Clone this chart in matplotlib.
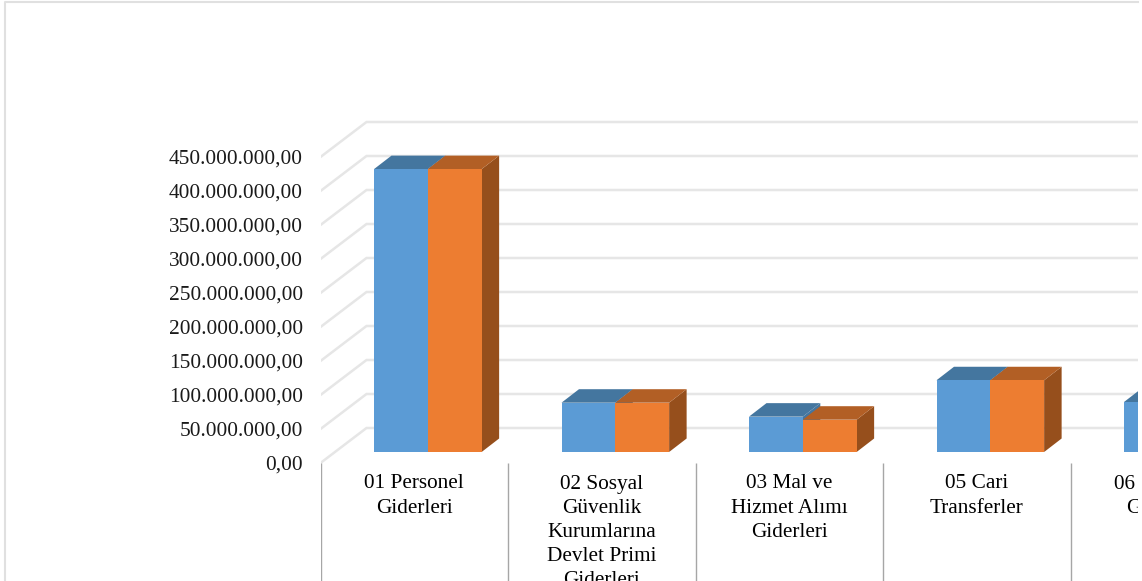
import matplotlib
matplotlib.use('Agg')
import matplotlib.pyplot as plt
from matplotlib.lines import Line2D

plt.rcParams['font.family'] = ['Liberation Serif', 'DejaVu Serif']

# Kategoriler ve degerler
kategoriler = [
    '01 Personel\nGiderleri',
    '02 Sosyal\nGüvenlik\nKurumlarına\nDevlet Primi\nGiderleri',
    '03 Mal ve\nHizmet Alımı\nGiderleri',
    '05 Cari\nTransferler',
    '06 Sermaye\nGiderleri',
]
seri_mavi = [416000000, 72500000, 52000000, 105500000, 73500000]
seri_turuncu = [416000000, 72500000, 47500000, 105500000, 73500000]
y_ticks = list(range(0, 450000001, 50000000))
y_etiketler = ['0,00', '50.000.000,00', '100.000.000,00', '150.000.000,00',
               '200.000.000,00', '250.000.000,00', '300.000.000,00',
               '350.000.000,00', '400.000.000,00', '450.000.000,00']

W, H = 1142, 581
sol, sag = 320.5, 1138
taban = 463            # sifir cizgisinin piksel yuksekligi
kat_px = 187.5         # bir kategorinin genisligi
deger_px = 50000000 / 34  # bir pikselin deger karsiligi

fig = plt.figure(figsize=(W / 100, H / 100), dpi=100)
ax = fig.add_axes([sol / W, 0, (sag - sol) / W, 1])
ax.set_xlim(0, (sag - sol) / kat_px)
ax.set_ylim((taban - H) * deger_px, taban * deger_px)
for s in ax.spines.values():
    s.set_visible(False)


def derinlik(piksel_x, piksel_y):
    return piksel_x / kat_px, piksel_y * deger_px


# izgara
gx, gy = derinlik(46, 35)
xmax = ax.get_xlim()[1]
for t in y_ticks:
    ax.plot([0, gx, xmax], [t, t + gy, t + gy], color='#e6e6e6', lw=1.8, zorder=1,
            solid_joinstyle='miter')


def cubuk(x0, x1, deger, on, ust, yan):
    ox, oy = derinlik(14.5, 11)
    dx, dy = derinlik(17.5, 13.5)
    a, b = x0 + ox, x1 + ox
    alt, tepe = oy, oy + deger
    ax.fill([b, b + dx, b + dx, b], [alt, alt + dy, tepe + dy, tepe], color=yan, lw=0, zorder=3)
    ax.fill([a, a + dx, b + dx, b], [tepe, tepe + dy, tepe + dy, tepe], color=ust, lw=0, zorder=3)
    ax.fill([a, b, b, a], [alt, alt, tepe, tepe], color=on, lw=0, zorder=3)


bosluk = 0.208
genislik = 0.287
for i in range(len(kategoriler)):
    x = i + bosluk
    cubuk(x, x + genislik, seri_mavi[i], '#5b9bd5', '#44769f', '#44769f')
    cubuk(x + genislik, x + 2 * genislik, seri_turuncu[i], '#ed7d31', '#b25f25', '#964f1c')

# kategori ayiricilari ve etiketler
ax.vlines(range(len(kategoriler)), ax.get_ylim()[0], 0, color='#a6a6a6', lw=1, zorder=2)
for i, k in enumerate(kategoriler):
    ax.text(i + 0.5, -11.5 * deger_px, k, ha='center', va='top', fontsize=15.3,
            linespacing=1.36, color='black', clip_on=True)

ax.set_xticks([])
ax.set_yticks(y_ticks)
ax.set_yticklabels(y_etiketler, fontsize=15.4, color='#1a1a1a')
ax.tick_params(axis='y', length=0, pad=12.6)

# dis cerceve
fig.add_artist(Line2D([4.5 / W, 4.5 / W, sag / W], [0, 1 - 1.5 / H, 1 - 1.5 / H],
                      color='#e0e0e0', lw=1.5))

fig.savefig('out.png', dpi=100)
